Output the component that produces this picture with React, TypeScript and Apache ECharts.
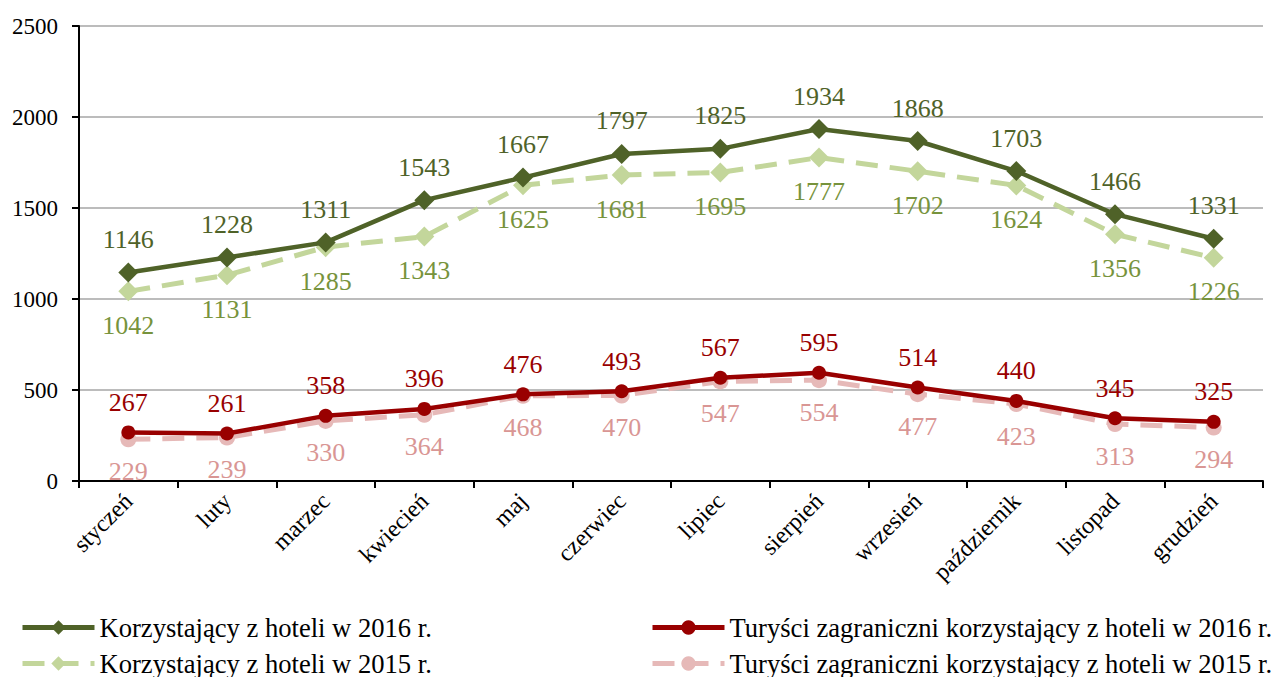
import React, { useEffect, useRef } from "react";
import * as echarts from "echarts";

const months = ["styczeń", "luty", "marzec", "kwiecień", "maj", "czerwiec", "lipiec", "sierpień", "wrzesień", "październik", "listopad", "grudzień"];
const hotel2016 = [1146, 1228, 1311, 1543, 1667, 1797, 1825, 1934, 1868, 1703, 1466, 1331];
const hotel2015 = [1042, 1131, 1285, 1343, 1625, 1681, 1695, 1777, 1702, 1624, 1356, 1226];
const foreign2016 = [267, 261, 358, 396, 476, 493, 567, 595, 514, 440, 345, 325];
const foreign2015 = [229, 239, 330, 364, 468, 470, 547, 554, 477, 423, 313, 294];
const yTicks = [0, 500, 1000, 1500, 2000, 2500];
const seriesNames = [
  "Korzystający z hoteli w 2016 r.",
  "Korzystający z hoteli w 2015 r.",
  "Turyści zagraniczni korzystający z hoteli w 2016 r.",
  "Turyści zagraniczni korzystający z hoteli w 2015 r.",
];

const FONT = "Liberation Serif";

export default function App() {
  const ref = useRef<HTMLDivElement>(null);
  useEffect(() => {
    if (!ref.current) return;
    const chart = echarts.init(ref.current, undefined, { renderer: "svg" });
    const mk = (name: string, data: number[], color: string, labelColor: string, dashed: boolean, symbol: string, size: number, pos: "top" | "bottom", z: number) => ({
      name,
      type: "line",
      data,
      z,
      symbol,
      symbolSize: size,
      itemStyle: { color },
      lineStyle: { color, width: dashed ? 5 : 4.5, type: dashed ? [22, 12] : "solid" },
      label: {
        show: true,
        position: pos,
        distance: pos === "top" ? 10 : 11,
        color: labelColor,
        fontFamily: FONT,
        fontSize: 26,
      },
    });
    const legendItem = (name: string, left: number, top: number) => ({
      orient: "horizontal",
      left,
      top,
      itemWidth: 72,
      itemHeight: 18,
      lineStyle: { width: 5 },
      data: [name],
      textStyle: { color: "#000", fontFamily: FONT, fontSize: 26.6 },
    });
    chart.setOption({
      animation: false,
      backgroundColor: "#ffffff",
      textStyle: { fontFamily: FONT },
      grid: { left: 79, right: 18, top: 26, bottom: 196 },
      xAxis: {
        type: "category",
        data: months,
        boundaryGap: true,
        axisLine: { lineStyle: { color: "#000", width: 2 } },
        axisTick: { show: true, length: 7, lineStyle: { color: "#000", width: 2 } },
        axisLabel: {
          rotate: 45,
          interval: 0,
          margin: 16,
          color: "#000",
          fontFamily: FONT,
          fontSize: 24,
        },
      },
      yAxis: {
        type: "value",
        min: yTicks[0],
        max: yTicks[yTicks.length - 1],
        interval: yTicks[1] - yTicks[0],
        axisLine: { show: true, lineStyle: { color: "#000", width: 2 } },
        axisTick: { show: true, length: 7, lineStyle: { color: "#000", width: 2 } },
        splitLine: { lineStyle: { color: "#a6a6a6", width: 1.5 } },
        axisLabel: { color: "#000", fontFamily: FONT, fontSize: 23, margin: 21, formatter: (v: number) => String(v) },
      },
      legend: [
        legendItem(seriesNames[0], 15, 609),
        legendItem(seriesNames[1], 15, 645),
        legendItem(seriesNames[2], 645, 609),
        legendItem(seriesNames[3], 645, 645),
      ],
      series: [
        mk(seriesNames[1], hotel2015, "#c3d69b", "#77933c", true, "diamond", 20, "bottom", 2),
        mk(seriesNames[0], hotel2016, "#4f6228", "#4f6228", false, "diamond", 20, "top", 3),
        mk(seriesNames[3], foreign2015, "#e6b9b8", "#d99694", true, "circle", 16, "bottom", 2),
        mk(seriesNames[2], foreign2016, "#990000", "#990000", false, "circle", 14, "top", 3),
      ],
    });
    return () => chart.dispose();
  }, []);
  return <div ref={ref} style={{ width: 1281, height: 677, position: "absolute", left: 0, top: 0 }} />;
}
